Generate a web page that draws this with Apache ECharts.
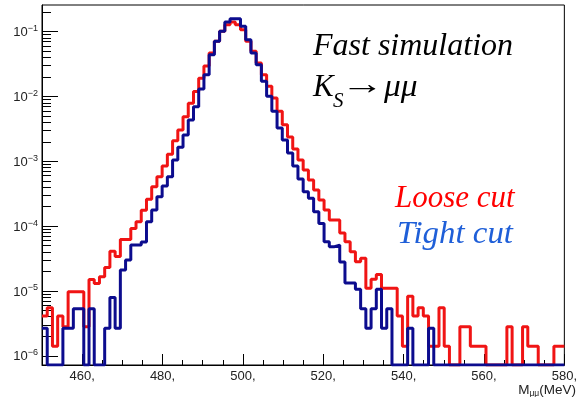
<!DOCTYPE html>
<html>
<head>
<meta charset="utf-8">
<script src="https://cdn.jsdelivr.net/npm/echarts@6/dist/echarts.min.js"></script>
<style>
html,body{margin:0;padding:0;background:#fff;}
#chart{width:580px;height:397px;}
</style>
</head>
<body>
<div id="chart"></div>
<script>
// Histogram binning (MeV)
const binStart = 450;
const binWidth = 1.3;
// Bin contents (normalised)
const looseCut = [
 4.1e-6,5.5e-6,1.4e-6,4.1e-6,2.8e-6,9.7e-6,9.7e-6,9.7e-6,2.8e-6,1.5e-5,
 1.3e-5,1.65e-5,2.3e-5,4.1e-5,3.4e-5,6.2e-5,6.2e-5,9.2e-5,1.17e-4,1.75e-4,
 2.6e-4,4.06e-4,5.78e-4,8.45e-4,1.28e-3,2.08e-3,3.04e-3,4.88e-3,7.85e-3,1.19e-2,
 1.91e-2,2.96e-2,4.69e-2,7.11e-2,0.1015,0.128,0.141,0.128,0.107,0.0711,
 0.0499,0.0329,0.0217,0.01435,9.48e-3,5.91e-3,3.67e-3,2.37e-3,1.55e-3,1.05e-3,
 7.34e-4,5.14e-4,3.6e-4,2.53e-4,1.77e-4,1.24e-4,1.24e-4,7.83e-5,5.74e-5,4.03e-5,
 2.82e-5,3.19e-5,1.1e-5,1.52e-5,1.8e-5,1.1e-5,1.1e-5,1.1e-5,4.1e-6,1.4e-6,
 8.3e-6,4.1e-6,5.5e-6,4.1e-6,1.4e-6,1.4e-6,5.5e-6,1.4e-6,0,0,
 2.8e-6,2.8e-6,1.4e-6,1.4e-6,1.4e-6,0,0,0,0,2.8e-6,
 0,0,2.8e-6,1.4e-6,1.4e-6,0,0,0,1.4e-6,1.4e-6
];
const tightCut = [
 2.65e-6,0,0,0,2.65e-6,2.65e-6,5.3e-6,5.3e-6,0,5.3e-6,
 0,0,2.65e-6,7.95e-6,2.65e-6,2.1e-5,3.0e-5,5.1e-5,5.1e-5,5.7e-5,
 1.17e-4,1.77e-4,2.85e-4,4.16e-4,5.8e-4,1.05e-3,1.65e-3,2.55e-3,4.34e-3,6.97e-3,
 1.31e-2,2.17e-2,4.42e-2,7.11e-2,0.1015,0.141,0.159,0.159,0.121,0.0753,
 0.0469,0.031,0.0172,0.0101,5.91e-3,3.27e-3,2.13e-3,1.34e-3,8.45e-4,5.33e-4,
 3.4e-4,2.69e-4,1.67e-4,1.1e-4,5.74e-5,4.82e-5,5.1e-5,2.8e-5,1.33e-5,1.33e-5,
 1.06e-5,5.3e-6,2.65e-6,5.3e-6,1.06e-5,2.65e-6,5.3e-6,0,0,0,
 2.65e-6,0,0,0,2.65e-6,0,0,0,0,0,
 0,0,0,0,0,0,0,0,0,0,
 0,0,0,0,0,0,0,0,0,0
];
const xMin = 450, xMax = 580;
const yMin = 7.2e-7, yMax = 0.258;
const xTickLabels = [460, 480, 500, 520, 540, 560, 580];
const xMinorTicks = [455, 465, 470, 475, 485, 490, 495, 505, 510, 515, 525, 530, 535, 545, 550, 555, 565, 570, 575];
const yTickLabels = [1e-6, 1e-5, 1e-4, 1e-3, 1e-2, 1e-1];
const yMinorMantissas = [2, 3, 4, 5, 6, 7, 8, 9];

function histPoints(vals) {
  const pts = [];
  for (let k = 0; k < vals.length; k++) {
    const v = vals[k] > 0 ? vals[k] : yMin;
    pts.push([binStart + k * binWidth, v]);
  }
  const last = vals[vals.length - 1] > 0 ? vals[vals.length - 1] : yMin;
  pts.push([binStart + vals.length * binWidth, last]);
  return pts;
}
const yMinor = [];
yTickLabels.forEach(function (d) {
  yMinorMantissas.forEach(function (m) {
    const v = d * m;
    if (v > yMin && v < yMax) yMinor.push(v);
  });
});
if (0.2 < yMax) yMinor.push(0.2);

const chart = echarts.init(document.getElementById('chart'), null, {renderer: 'canvas'});
const axisFont = 'Liberation Sans, Arial, sans-serif';
const serif = '"Liberation Serif", "Times New Roman", serif';
chart.setOption({
  animation: false,
  backgroundColor: '#ffffff',
  grid: {left: 42, top: 5, width: 535, height: 360, show: true, borderColor: '#000', borderWidth: 1, backgroundColor: 'transparent'},
  xAxis: [{
    type: 'value', min: xMin, max: xMax, position: 'bottom',
    axisLine: {show: true, onZero: false, lineStyle: {color: '#000', width: 1}},
    axisTick: {show: true, inside: true, length: 11, customValues: xTickLabels, lineStyle: {color: '#000'}},
    axisLabel: {show: true, customValues: xTickLabels, margin: 5, color: '#222', fontSize: 13, fontFamily: axisFont,
      formatter: function (v) { return v + ','; }},
    splitLine: {show: false}
  }, {
    type: 'value', min: xMin, max: xMax, position: 'bottom', gridIndex: 0,
    axisLine: {show: false},
    axisTick: {show: true, inside: true, length: 5, customValues: xMinorTicks, lineStyle: {color: '#000'}},
    axisLabel: {show: false},
    splitLine: {show: false}
  }],
  yAxis: [{
    type: 'log', logBase: 10, min: yMin, max: yMax, position: 'left',
    axisLine: {show: true, lineStyle: {color: '#000', width: 1}},
    axisTick: {show: true, inside: true, length: 16, customValues: yTickLabels, lineStyle: {color: '#000'}},
    axisLabel: {show: true, customValues: yTickLabels, margin: 4, color: '#222', fontFamily: axisFont,
      formatter: function (v) {
        const e = Math.round(Math.log10(v));
        return '{b|10}{s|' + (e < 0 ? '\u2212' + (-e) : e) + '}';
      },
      rich: {
        b: {fontSize: 13, lineHeight: 15, verticalAlign: 'bottom', fontFamily: axisFont, color: '#222'},
        s: {fontSize: 9, lineHeight: 9, verticalAlign: 'top', fontFamily: axisFont, color: '#222'}
      }},
    splitLine: {show: false}
  }, {
    type: 'log', logBase: 10, min: yMin, max: yMax, position: 'left', gridIndex: 0,
    axisLine: {show: false},
    axisTick: {show: true, inside: true, length: 9, customValues: yMinor, lineStyle: {color: '#000'}},
    axisLabel: {show: false},
    splitLine: {show: false}
  }],
  series: [{
    name: 'Loose cut', type: 'line', step: 'end', xAxisIndex: 0, yAxisIndex: 0,
    data: histPoints(looseCut), symbol: 'none', clip: true,
    lineStyle: {color: '#f01414', width: 3}, z: 2
  }, {
    name: 'Tight cut', type: 'line', step: 'end', xAxisIndex: 0, yAxisIndex: 0,
    data: histPoints(tightCut), symbol: 'none', clip: true,
    lineStyle: {color: '#0c0c8e', width: 3}, z: 3
  }],
  graphic: [
    {type: 'text', left: 313, top: 31, style: {text: 'Fast simulation', font: 'italic 32px ' + serif, fill: '#000'}},
    {type: 'text', left: 313, top: 72, style: {text: 'K', font: 'italic 31px ' + serif, fill: '#000'}},
    {type: 'text', left: 333, top: 91, style: {text: 'S', font: 'italic 21px ' + serif, fill: '#000'}},
    {type: 'text', left: 341, top: 70, scaleX: 1.4, style: {text: '\u2192', font: '31px ' + serif, fill: '#000'}},
    {type: 'text', left: 384, top: 72, scaleX: 1.08, style: {text: '\u03bc\u03bc', font: 'italic 31px ' + serif, fill: '#000'}},
    {type: 'text', left: 395, top: 183, style: {text: 'Loose cut', font: 'italic 31px ' + serif, fill: '#ff0000'}},
    {type: 'text', left: 397, top: 219, scaleX: 1.06, style: {text: 'Tight cut', font: 'italic 31px ' + serif, fill: '#1f5fd8'}},
    {type: 'text', right: 4, top: 383, style: {text: '{m|M}{u|\u03bc\u03bc}{m|(MeV)}', rich: {
      m: {fontSize: 13.5, fontFamily: axisFont, fill: '#222', lineHeight: 15, verticalAlign: 'top'},
      u: {fontSize: 8.5, fontFamily: axisFont, fill: '#222', lineHeight: 8, verticalAlign: 'bottom'}
    }}}
  ]
});
</script>
</body>
</html>
